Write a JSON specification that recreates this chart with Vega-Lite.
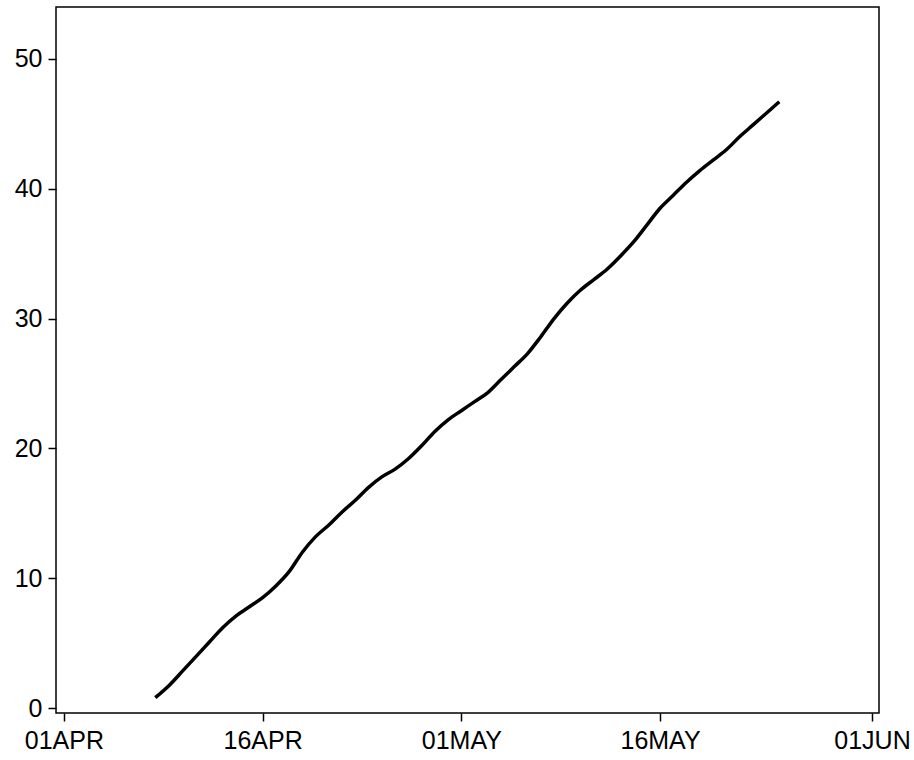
{
  "$schema": "https://vega.github.io/schema/vega-lite/v6.json",
  "width": 823,
  "height": 706,
  "autosize": "none",
  "padding": {"left": 56, "top": 7, "right": 35, "bottom": 47},
  "background": "white",
  "config": {
    "view": {"stroke": "#000000", "strokeWidth": 1.5},
    "axis": {
      "grid": false,
      "domain": false,
      "tickColor": "#000000",
      "tickWidth": 1.5,
      "tickSize": 8,
      "labelFont": "Liberation Sans",
      "labelFontSize": 25,
      "labelColor": "#000000",
      "title": null
    }
  },
  "data": {
    "values": [
      {"date": "2020-04-07T21:30:00", "value": 0.8},
      {"date": "2020-04-09T00:00:00", "value": 1.8},
      {"date": "2020-04-10T00:00:00", "value": 2.9},
      {"date": "2020-04-11T00:00:00", "value": 4.0},
      {"date": "2020-04-12T00:00:00", "value": 5.1},
      {"date": "2020-04-13T00:00:00", "value": 6.2},
      {"date": "2020-04-14T00:00:00", "value": 7.1},
      {"date": "2020-04-15T00:00:00", "value": 7.8},
      {"date": "2020-04-16T00:00:00", "value": 8.5},
      {"date": "2020-04-17T00:00:00", "value": 9.4},
      {"date": "2020-04-18T00:00:00", "value": 10.5},
      {"date": "2020-04-19T00:00:00", "value": 12.0},
      {"date": "2020-04-20T00:00:00", "value": 13.2},
      {"date": "2020-04-21T00:00:00", "value": 14.1},
      {"date": "2020-04-22T00:00:00", "value": 15.1},
      {"date": "2020-04-23T00:00:00", "value": 16.0},
      {"date": "2020-04-24T00:00:00", "value": 17.0},
      {"date": "2020-04-25T00:00:00", "value": 17.8},
      {"date": "2020-04-26T00:00:00", "value": 18.4},
      {"date": "2020-04-27T00:00:00", "value": 19.2},
      {"date": "2020-04-28T00:00:00", "value": 20.2},
      {"date": "2020-04-29T00:00:00", "value": 21.3},
      {"date": "2020-04-30T00:00:00", "value": 22.2},
      {"date": "2020-05-01T00:00:00", "value": 22.9},
      {"date": "2020-05-02T00:00:00", "value": 23.6},
      {"date": "2020-05-03T00:00:00", "value": 24.3},
      {"date": "2020-05-04T00:00:00", "value": 25.3},
      {"date": "2020-05-05T00:00:00", "value": 26.3},
      {"date": "2020-05-06T00:00:00", "value": 27.3},
      {"date": "2020-05-07T00:00:00", "value": 28.6},
      {"date": "2020-05-08T00:00:00", "value": 30.0},
      {"date": "2020-05-09T00:00:00", "value": 31.2},
      {"date": "2020-05-10T00:00:00", "value": 32.2},
      {"date": "2020-05-11T00:00:00", "value": 33.0},
      {"date": "2020-05-12T00:00:00", "value": 33.8},
      {"date": "2020-05-13T00:00:00", "value": 34.8},
      {"date": "2020-05-14T00:00:00", "value": 35.9},
      {"date": "2020-05-15T00:00:00", "value": 37.2},
      {"date": "2020-05-16T00:00:00", "value": 38.5},
      {"date": "2020-05-17T00:00:00", "value": 39.5},
      {"date": "2020-05-18T00:00:00", "value": 40.5},
      {"date": "2020-05-19T00:00:00", "value": 41.4},
      {"date": "2020-05-20T00:00:00", "value": 42.2},
      {"date": "2020-05-21T00:00:00", "value": 43.0},
      {"date": "2020-05-22T00:00:00", "value": 44.0},
      {"date": "2020-05-23T00:00:00", "value": 44.9},
      {"date": "2020-05-24T00:00:00", "value": 45.8},
      {"date": "2020-05-25T00:00:00", "value": 46.7}
    ]
  },
  "mark": {"type": "line", "color": "#000000", "strokeWidth": 3.5, "interpolate": "monotone"},
  "encoding": {
    "x": {
      "field": "date",
      "type": "temporal",
      "scale": {"domain": ["2020-03-31T09:40:00", "2020-06-01T12:40:00"]},
      "axis": {
        "values": ["2020-04-01T00:00:00", "2020-04-16T00:00:00", "2020-05-01T00:00:00", "2020-05-16T00:00:00", "2020-06-01T00:00:00"],
        "labelExpr": "upper(timeFormat(datum.value, '%d%b'))",
        "labelPadding": 7
      }
    },
    "y": {
      "field": "value",
      "type": "quantitative",
      "scale": {"domain": [-0.385, 54], "nice": false, "zero": false},
      "axis": {"values": [0, 10, 20, 30, 40, 50], "labelPadding": 6}
    }
  }
}
